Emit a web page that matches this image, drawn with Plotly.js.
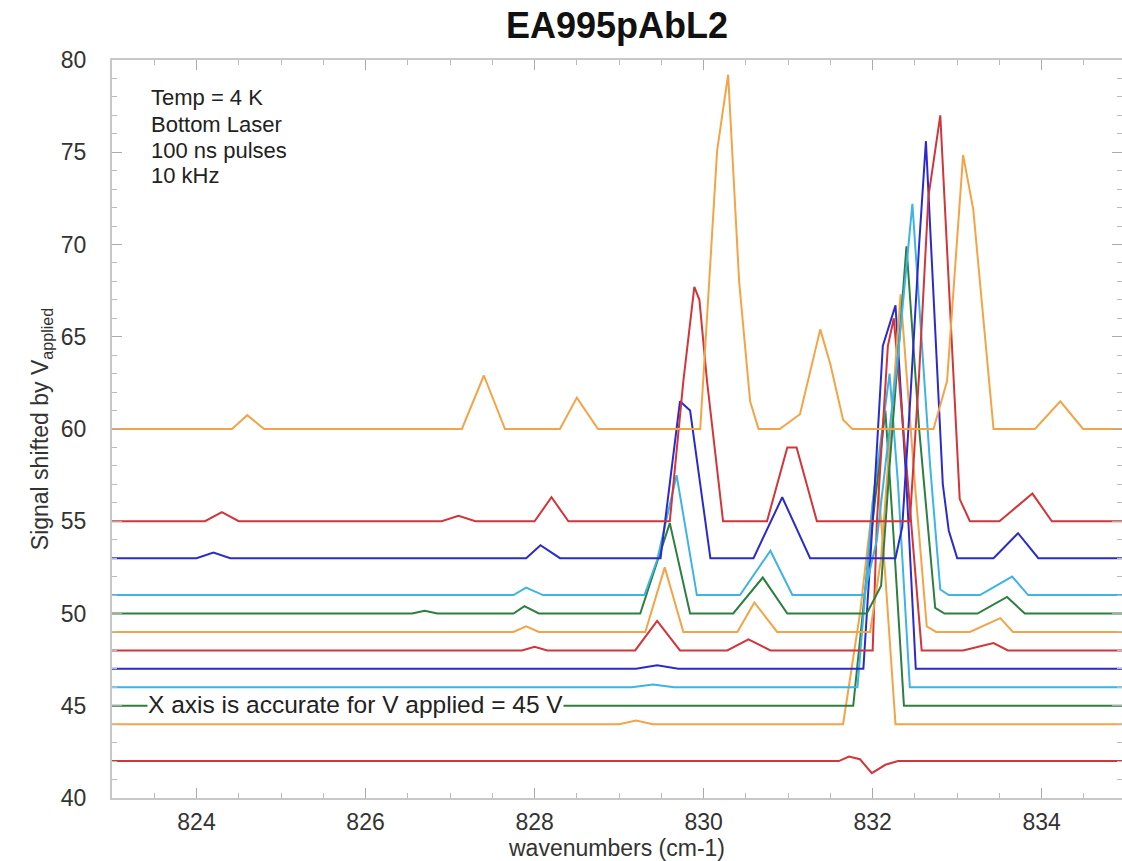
<!DOCTYPE html>
<html>
<head>
<meta charset="utf-8">
<script src="https://cdn.plot.ly/plotly-3.0.1.min.js"></script>
<style>html,body{margin:0;padding:0;background:#fff;}#chart{width:1122px;height:861px;}</style>
</head>
<body>
<div id="chart"></div>
<script>
// Wavenumbers (cm-1) and shifted signals
var x_o60 = [823, 824.42, 824.6, 824.8, 827.14, 827.4, 827.65, 828.3, 828.5, 828.75, 829.96, 830.16, 830.29, 830.42, 830.55, 830.65, 830.9, 831.14, 831.38, 831.5, 831.65, 831.76, 832.72, 832.88, 833.07, 833.19, 833.43, 833.92, 834.22, 834.49, 835];
var y_o60 = [60, 60, 60.75, 60, 60, 62.9, 60, 60, 61.7, 60, 60, 75.1, 79.2, 68, 61.5, 60, 60, 60.8, 65.4, 63.5, 60.5, 60, 60, 62.6, 74.85, 71.9, 60, 60, 61.5, 60, 60];

var x_r55 = [823, 824.1, 824.3, 824.5, 826.9, 827.1, 827.3, 828.0, 828.2, 828.4, 829.6, 829.76, 829.89, 829.95, 830.04, 830.23, 830.75, 830.99, 831.1, 831.34, 832.44, 832.55, 832.66, 832.8, 833.03, 833.15, 833.5, 833.89, 834.12, 835];
var y_r55 = [55, 55, 55.5, 55, 55, 55.3, 55, 55, 56.3, 55, 55, 62.6, 67.7, 67, 62.6, 55, 55, 59, 59, 55, 55, 63, 72.6, 77, 56.2, 55, 55, 56.5, 55, 55];

var x_b53 = [823, 824.0, 824.2, 824.4, 827.9, 828.07, 828.3, 829.49, 829.72, 829.84, 830.08, 830.59, 830.93, 831.26, 832.27, 832.35, 832.45, 832.55, 832.63, 832.83, 832.9, 833.0, 833.43, 833.72, 833.96, 835];
var y_b53 = [53, 53, 53.3, 53, 53, 53.7, 53, 53, 61.5, 61.0, 53, 53, 56.3, 53, 53, 54.7, 62, 70, 75.6, 57, 54.5, 53, 53, 54.35, 53, 53];

var x_c51 = [823, 827.75, 827.9, 828.1, 829.3, 829.45, 829.68, 829.92, 830.43, 830.79, 831.05, 831.9, 832.05, 832.3, 832.47, 832.68, 832.8, 832.9, 833.27, 833.65, 833.84, 835];
var y_c51 = [51, 51, 51.4, 51, 51, 52.9, 57.5, 51, 51, 53.4, 51, 51, 54, 64, 72.2, 58, 51.3, 51, 51, 52.0, 51, 51];

var x_g50 = [823, 826.55, 826.7, 826.85, 827.75, 827.88, 828.05, 829.25, 829.6, 829.84, 830.35, 830.7, 830.99, 831.93, 832.1, 832.2, 832.4, 832.55, 832.74, 832.85, 833.24, 833.59, 833.8, 835];
var y_g50 = [50, 50, 50.15, 50, 50, 50.4, 50, 50, 54.9, 50, 50, 51.95, 50, 50, 51.5, 58, 69.9, 60, 50.3, 50, 50, 50.9, 50, 50];

var x_o49 = [823, 827.75, 827.9, 828.05, 829.31, 829.54, 829.76, 830.4, 830.6, 830.87, 831.97, 832.1, 832.33, 832.5, 832.64, 832.75, 833.15, 833.51, 833.66, 835];
var y_o49 = [49, 49, 49.3, 49, 49, 52.5, 49, 49, 50.6, 49, 49, 53, 67.3, 57, 49.3, 49, 49, 49.75, 49, 49];

var x_r48 = [823, 827.85, 828.0, 828.15, 829.19, 829.45, 829.72, 830.28, 830.53, 830.79, 832.0, 832.05, 832.18, 832.25, 832.4, 832.58, 833.07, 833.43, 833.6, 835];
var y_r48 = [48, 48, 48.2, 48, 48, 49.6, 48, 48, 48.6, 48, 48, 55, 64.5, 66, 58, 48, 48, 48.4, 48, 48];

var x_b47 = [823, 829.2, 829.45, 829.7, 831.89, 832.0, 832.12, 832.27, 832.4, 832.51, 835];
var y_b47 = [47, 47, 47.2, 47, 47, 55, 64.5, 66.7, 57, 47, 47];

var x_c46 = [823, 829.15, 829.4, 829.65, 831.82, 832.0, 832.2, 832.3, 832.44, 835];
var y_c46 = [46, 46, 46.15, 46, 46, 56, 63, 57, 46, 46];

var x_g45 = [823, 831.77, 831.95, 832.15, 832.25, 832.37, 835];
var y_g45 = [45, 45, 53, 61, 54, 45, 45];

var x_o44 = [823, 829.0, 829.2, 829.4, 831.65, 831.85, 832.05, 832.15, 832.27, 835];
var y_o44 = [44, 44, 44.2, 44, 44, 50, 58, 52, 44, 44];

var x_r42 = [823, 831.6, 831.72, 831.85, 831.99, 832.15, 832.3, 835];
var y_r42 = [42, 42, 42.25, 42.1, 41.35, 41.8, 42, 42];

// Text notes (top-left block, one entry per line)
var noteLines = ['Temp = 4 K', 'Bottom Laser', '100 ns pulses', '10 kHz'];

var ORANGE = '#F3A446', RED = '#D2353A', BLUE = '#2B2BCC', CYAN = '#3DB4E3', GREEN = '#2C7F3F';

var series = [
  [x_r42, y_r42, RED],
  [x_o44, y_o44, ORANGE],
  [x_g45, y_g45, GREEN],
  [x_c46, y_c46, CYAN],
  [x_b47, y_b47, BLUE],
  [x_r48, y_r48, RED],
  [x_o49, y_o49, ORANGE],
  [x_g50, y_g50, GREEN],
  [x_c51, y_c51, CYAN],
  [x_b53, y_b53, BLUE],
  [x_r55, y_r55, RED],
  [x_o60, y_o60, ORANGE]
];

var traces = series.map(function (s) {
  return {x: s[0], y: s[1], type: 'scatter', mode: 'lines',
          line: {color: s[2], width: 2}, hoverinfo: 'skip', showlegend: false};
});

var FONT = 'Liberation Sans, Arial, Helvetica, sans-serif';

var annotations = noteLines.map(function (t, i) {
  return {text: t, xref: 'paper', yref: 'paper', x: 0.0365, y: 1 - (38 + 26 * i) / 738,
          xanchor: 'left', yanchor: 'middle', align: 'left', showarrow: false,
          font: {family: FONT, size: 22, color: '#222'}};
});
annotations.push({text: 'X axis is accurate for V applied = 45 V', xref: 'x', yref: 'y',
  x: 823.41, y: 45.05, xanchor: 'left', yanchor: 'middle', align: 'left', showarrow: false,
  bgcolor: '#fff', borderpad: 0,
  font: {family: FONT, size: 24.5, color: '#222'}});

var layout = {
  width: 1122, height: 861,
  margin: {l: 112, r: 0, t: 60, b: 63},
  paper_bgcolor: '#fff', plot_bgcolor: '#fff',
  showlegend: false,
  title: {text: '<b>EA995pAbL2</b>', font: {family: FONT, size: 36, color: '#111'},
          x: 0.5, xref: 'paper', y: 0.970, yref: 'container', yanchor: 'middle'},
  xaxis: {
    range: [823, 834.95], dtick: 2, tick0: 824,
    ticks: 'inside', ticklen: 10, tickwidth: 1, tickcolor: '#aaa',
    showline: true, linecolor: '#c8c8c8', linewidth: 2, mirror: 'ticks',
    showgrid: false, zeroline: false, automargin: false,
    tickfont: {family: FONT, size: 23, color: '#333'},
    ticklabelstandoff: 2,
    minor: {dtick: 0.5, ticks: 'inside', ticklen: 5, tickcolor: '#bbb', showgrid: false},
    title: {text: 'wavenumbers (cm-1)', font: {family: FONT, size: 23, color: '#333'}, standoff: 4}
  },
  yaxis: {
    range: [40, 80], dtick: 5,
    ticks: 'inside', ticklen: 10, tickwidth: 1, tickcolor: '#aaa',
    showline: true, linecolor: '#c8c8c8', linewidth: 2, mirror: 'ticks',
    showgrid: false, zeroline: false, automargin: false,
    tickfont: {family: FONT, size: 23, color: '#333'},
    ticklabelstandoff: 19,
    minor: {dtick: 1, ticks: 'inside', ticklen: 5, tickcolor: '#bbb', showgrid: false},
    title: {text: 'Signal shifted by V<sub>applied</sub>', font: {family: FONT, size: 23, color: '#333'}, standoff: 6}
  },
  annotations: annotations
};

Plotly.newPlot('chart', traces, layout, {displayModeBar: false, staticPlot: true});
</script>
</body>
</html>
